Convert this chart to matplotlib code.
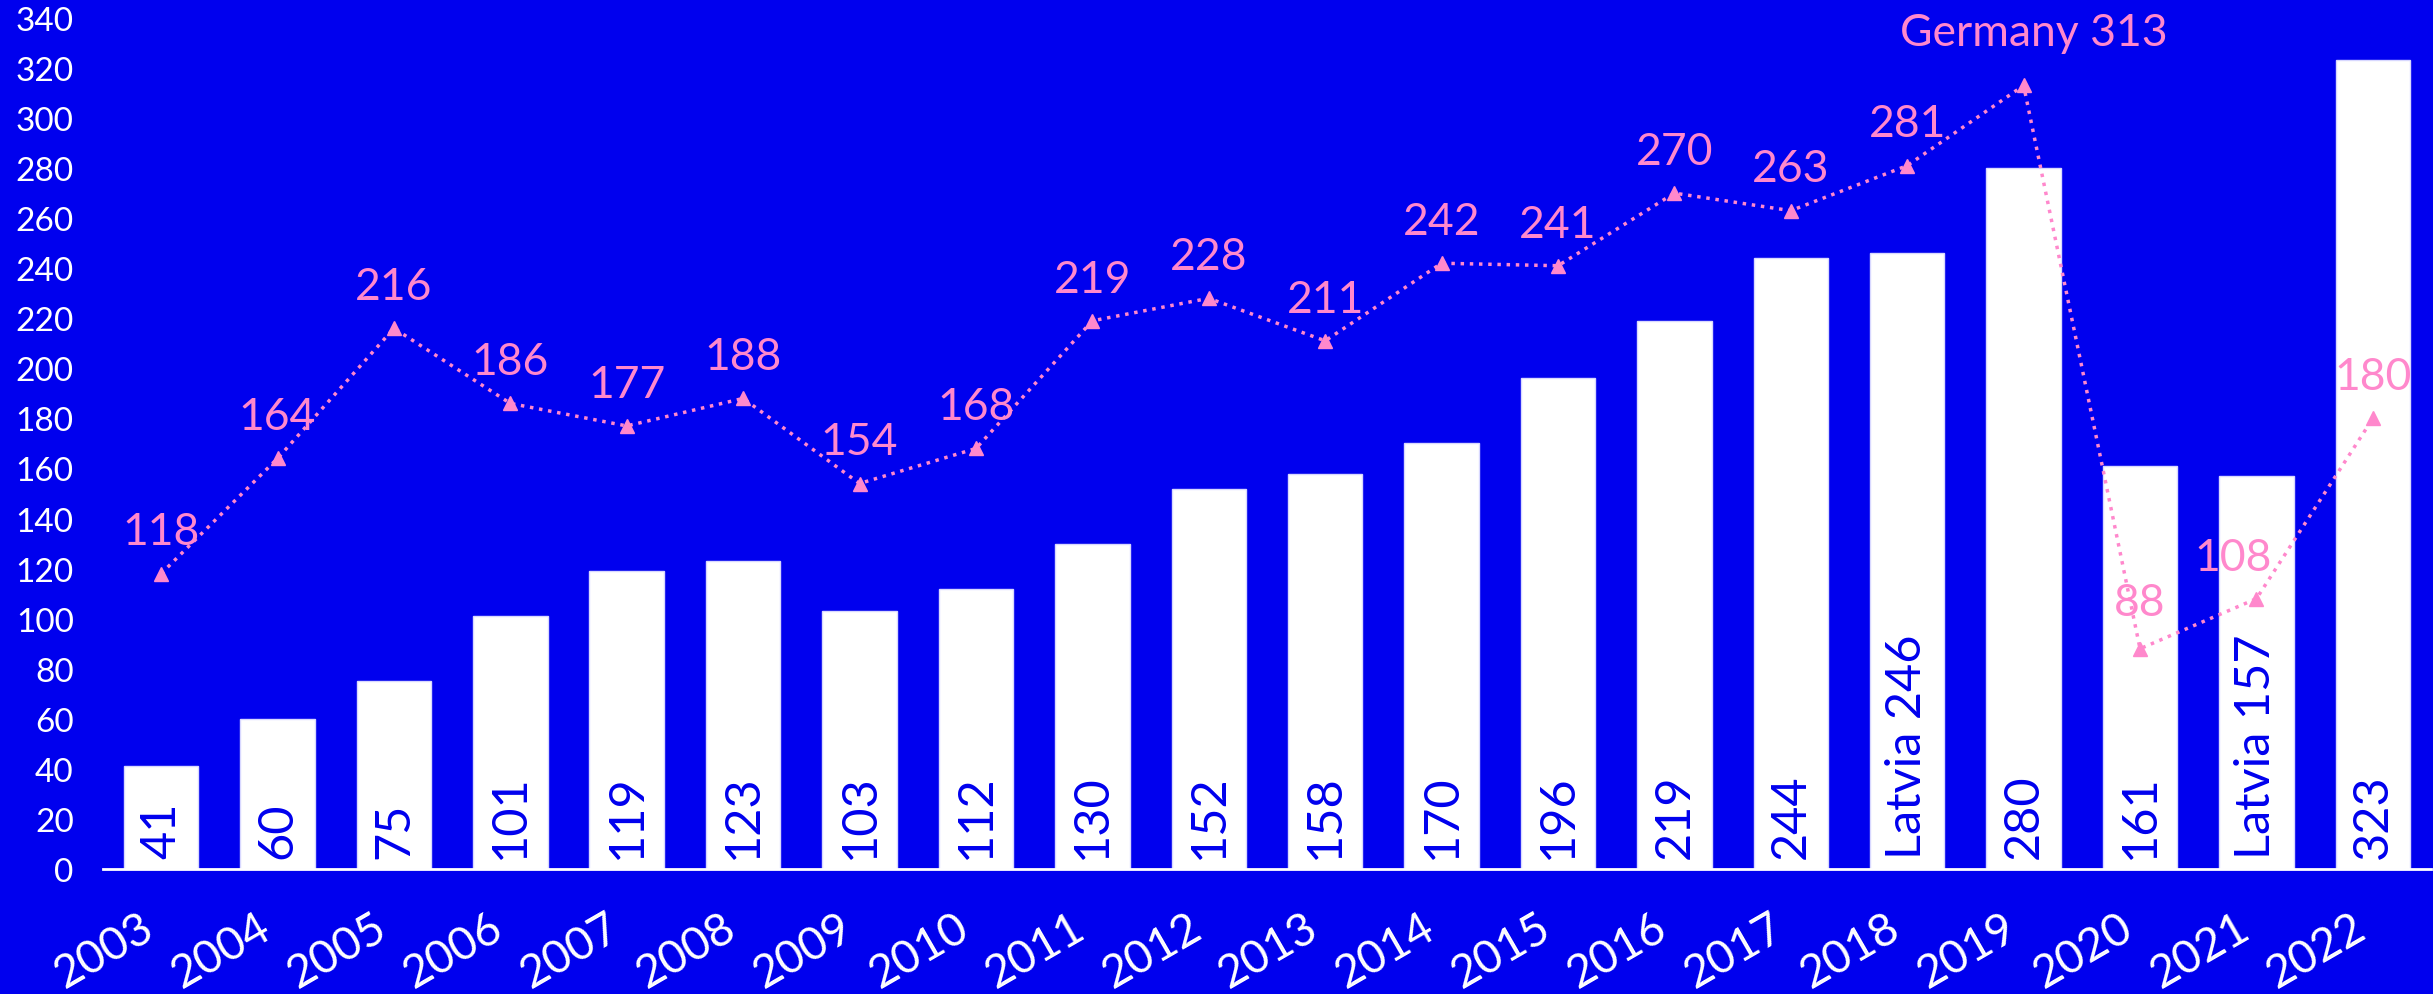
import matplotlib
matplotlib.use("Agg")
import matplotlib.pyplot as plt

# data
years = [str(y) for y in range(2003, 2023)]
bar_values = [41, 60, 75, 101, 119, 123, 103, 112, 130, 152,
              158, 170, 196, 219, 244, 246, 280, 161, 157, 323]
bar_labels = ["41", "60", "75", "101", "119", "123", "103", "112", "130", "152",
              "158", "170", "196", "219", "244", "Latvia 246", "280", "161", "Latvia 157", "323"]
line_values = [118, 164, 216, 186, 177, 188, 154, 168, 219, 228,
               211, 242, 241, 270, 263, 281, 313, 88, 108, 180]
line_labels = ["118", "164", "216", "186", "177", "188", "154", "168", "219", "228",
               "211", "242", "241", "270", "263", "281", "Germany 313", "88", "108", "180"]
yticks = list(range(0, 341, 20))

BG = "#0000EE"
PINK = "#FF88CC"
plt.rcParams['font.family'] = ['Lato', 'DejaVu Sans']

fig = plt.figure(figsize=(24.33, 9.95), dpi=100, facecolor=BG)
ax = fig.add_axes([0.0423, 0.1256, 0.9569, 0.8554])
ax.set_facecolor(BG)

x = list(range(len(years)))
ax.bar(x, bar_values, width=0.64, color="white", edgecolor="#d8d8ff", linewidth=1, zorder=2)

for xi, lab in zip(x, bar_labels):
    ax.annotate(lab, (xi, 0), xytext=(0, 8), textcoords="offset points",
                rotation=90, ha="center", va="bottom", color=BG, fontsize=35, zorder=3)

ax.plot(x, line_values, linestyle=":", color=PINK, linewidth=2.5,
        marker="^", markersize=10, zorder=4)

# a few labels sit a little off the default spot
nudge = {16: (7, 38), 17: (0, 33), 18: (-17, 30)}
for xi, v, lab in zip(x, line_values, line_labels):
    dx, dy = nudge.get(xi, (0, 30))
    ax.annotate(lab, (xi, v), xytext=(dx, dy), textcoords="offset points",
                ha="center", va="center", color=PINK, fontsize=32, zorder=5)

ax.set_xlim(-0.5, 19.5)
ax.set_ylim(0, 340)
ax.set_yticks(yticks)
ax.set_xticks(x)
ax.set_xticklabels(years, rotation=30, ha="right", fontsize=33, color="white")
ax.tick_params(axis="y", length=0, pad=21, labelsize=24, labelcolor="white")
ax.tick_params(axis="x", length=0, pad=26)

for s in ["top", "right", "left"]:
    ax.spines[s].set_visible(False)
ax.spines["bottom"].set_color("white")
ax.spines["bottom"].set_linewidth(2)

fig.savefig("out.png", dpi=100, facecolor=BG)
